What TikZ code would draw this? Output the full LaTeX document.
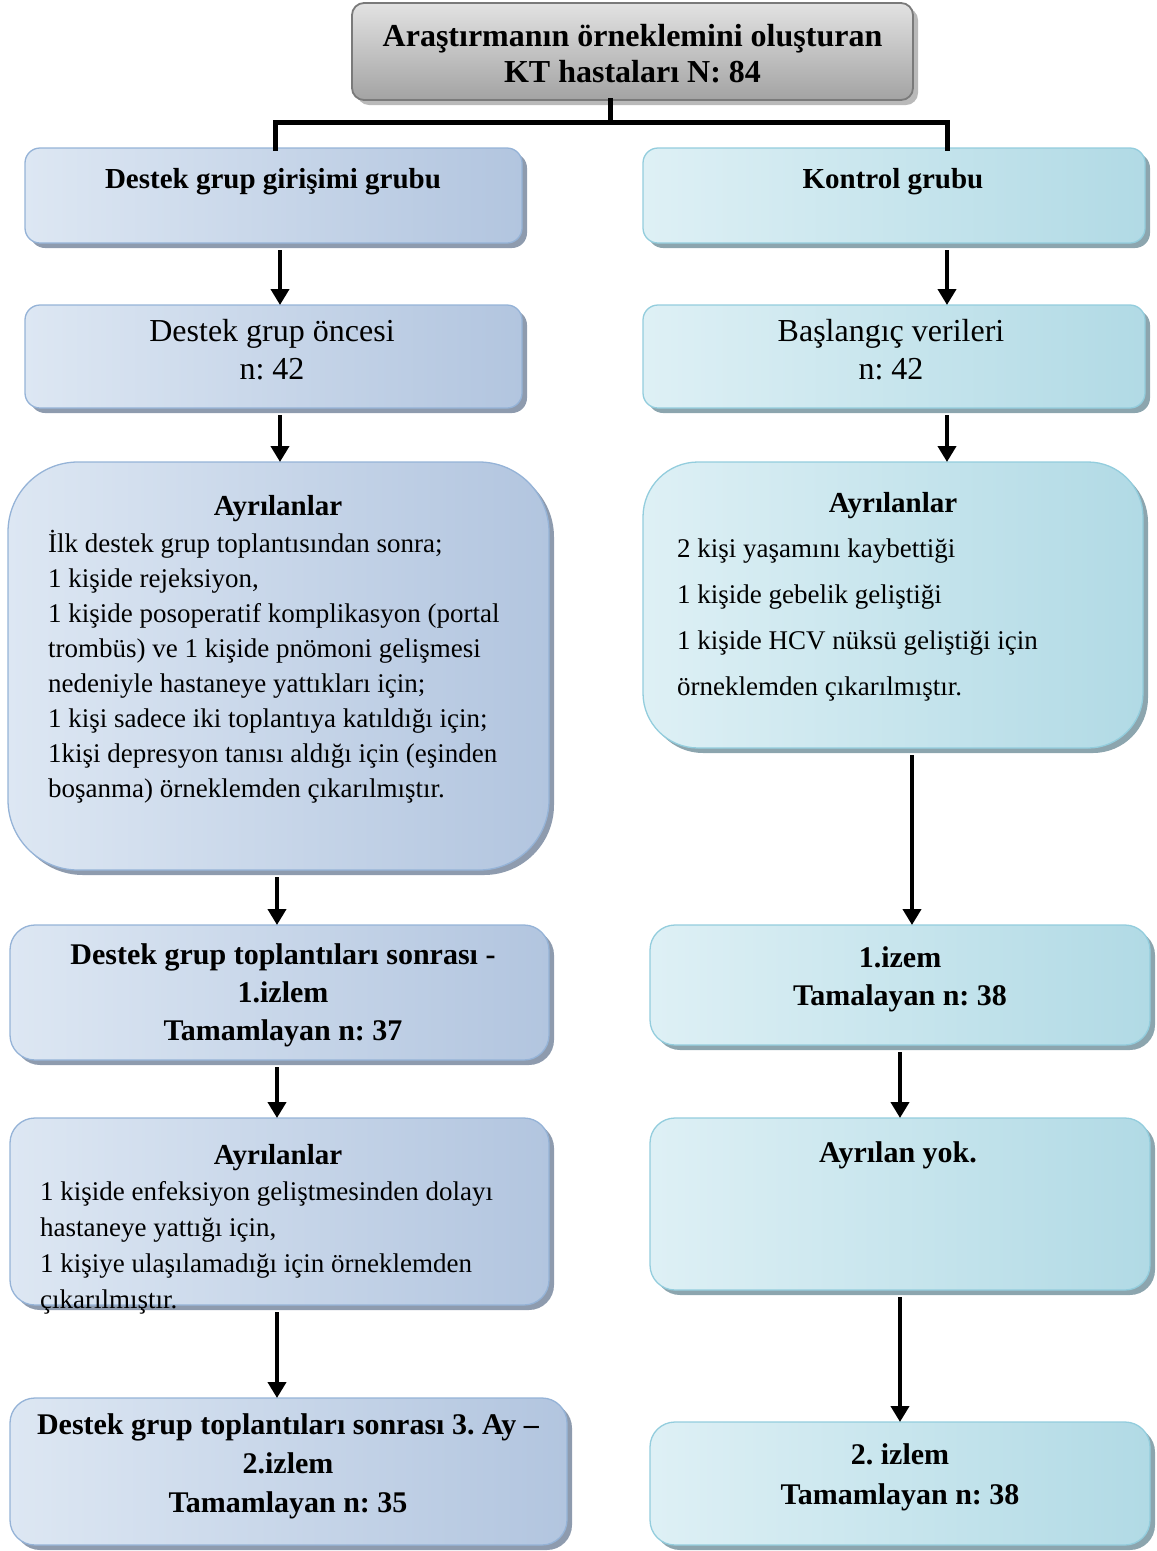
\documentclass[tikz,border=0pt]{standalone}
\usepackage{fontspec}
\setmainfont{Liberation Serif}
\usetikzlibrary{arrows.meta,shadows}
\frenchspacing

% palette
\definecolor{blueLight}{HTML}{DDE7F3}
\definecolor{blueDark}{HTML}{B2C5DF}
\definecolor{blueEdge}{HTML}{95B3D7}
\definecolor{blueShadow}{HTML}{8E9BAE}
\definecolor{cyanLight}{HTML}{DEF0F5}
\definecolor{cyanDark}{HTML}{B1DAE5}
\definecolor{cyanEdge}{HTML}{93CDDD}
\definecolor{cyanShadow}{HTML}{8CA5AE}
\definecolor{greyLight}{HTML}{E2E2E2}
\definecolor{greyDark}{HTML}{A3A3A3}
\definecolor{greyEdge}{HTML}{7A7A7A}

\tikzset{
  panel/.style={rectangle, inner sep=0pt, outer sep=0pt, line width=1.3pt},
  bluebox/.style={panel, draw=blueEdge, left color=blueLight, right color=blueDark,
    drop shadow={shadow xshift=5pt, shadow yshift=-5pt, fill=blueShadow, opacity=1}},
  cyanbox/.style={panel, draw=cyanEdge, left color=cyanLight, right color=cyanDark,
    drop shadow={shadow xshift=5pt, shadow yshift=-5pt, fill=cyanShadow, opacity=1}},
  greybox/.style={panel, draw=greyEdge, line width=1.8pt, top color=greyLight, bottom color=greyDark,
    drop shadow={shadow xshift=5pt, shadow yshift=-5pt, fill=gray!55, opacity=1}},
  % multi-line nodes: the base anchor is the baseline of the last line
  txt/.style={inner sep=0pt, anchor=base, align=center},
  bodytxt/.style={inner sep=0pt, anchor=base west, align=left},
  headfont/.style={font=\fontsize{30}{38}\selectfont\bfseries},
  bigfont/.style={font=\fontsize{32}{38}\selectfont},
  link/.style={line width=5pt, line join=miter, line cap=rect},
  arrow/.style={line width=4.5pt, -{Triangle[length=16pt,width=18pt]}, shorten <=7pt},
}

\begin{document}
\begin{tikzpicture}[x=1pt, y=-1pt]
\useasboundingbox (0,0) rectangle (1157,1551);

% ---------- boxes ----------
\node[greybox, rounded corners=12pt, minimum width=561pt, minimum height=97pt] (T) at (632.5,51.5) {};

\node[bluebox, rounded corners=15pt, minimum width=497pt, minimum height=95pt]  (L1) at (273.5,195.5) {};
\node[bluebox, rounded corners=15pt, minimum width=497pt, minimum height=103pt] (L2) at (273.5,356.5) {};
\node[bluebox, rounded corners=70pt, minimum width=541pt, minimum height=408pt] (L3) at (278.5,666) {};
\node[bluebox, rounded corners=25pt, minimum width=539pt, minimum height=135pt] (L4) at (279.5,992.5) {};
\node[bluebox, rounded corners=25pt, minimum width=539pt, minimum height=187pt] (L5) at (279.5,1211.5) {};
\node[bluebox, rounded corners=25pt, minimum width=557pt, minimum height=147pt] (L6) at (288.5,1471.5) {};

\node[cyanbox, rounded corners=15pt, minimum width=502pt, minimum height=95pt]  (R1) at (894,195.5) {};
\node[cyanbox, rounded corners=15pt, minimum width=502pt, minimum height=103pt] (R2) at (894,356.5) {};
\node[cyanbox, rounded corners=55pt, minimum width=500pt, minimum height=286pt] (R3) at (893,605) {};
\node[cyanbox, rounded corners=25pt, minimum width=500pt, minimum height=120pt] (R4) at (900,985) {};
\node[cyanbox, rounded corners=25pt, minimum width=500pt, minimum height=172pt] (R5) at (900,1204) {};
\node[cyanbox, rounded corners=25pt, minimum width=500pt, minimum height=123pt] (R6) at (900,1483.5) {};

% ---------- texts ----------
\node[txt, font=\fontsize{32}{36}\selectfont\bfseries] (Tt) at (632.5,82)
  {Araştırmanın örneklemini oluşturan\\KT hastaları N: 84};

\node[txt, font=\fontsize{29}{35}\selectfont\bfseries] (L1t) at (273,188) {Destek grup girişimi grubu};
\node[txt, bigfont] (L2t) at (272,379) {Destek grup öncesi\\n: 42};
\node[txt, font=\fontsize{29}{35}\selectfont\bfseries] (L3h) at (278,515) {Ayrılanlar};
\node[bodytxt, font=\fontsize{27}{35}\selectfont] (L3b) at (48,797)
  {İlk destek grup toplantısından sonra;\\
   1 kişide rejeksiyon,\\
   1 kişide posoperatif komplikasyon (portal\\
   trombüs) ve 1 kişide pnömoni gelişmesi\\
   nedeniyle hastaneye yattıkları için;\\
   1 kişi sadece iki toplantıya katıldığı için;\\
   1kişi depresyon tanısı aldığı için (eşinden\\
   boşanma) örneklemden çıkarılmıştır.};
\node[txt, headfont] (L4t) at (283,1040)
  {Destek grup toplantıları sonrası -\\1.izlem\\Tamamlayan n: 37};
\node[txt, font=\fontsize{29}{35}\selectfont\bfseries] (L5h) at (278,1164) {Ayrılanlar};
\node[bodytxt, font=\fontsize{27}{36}\selectfont] (L5b) at (40,1308)
  {1 kişide enfeksiyon geliştmesinden dolayı\\
   hastaneye yattığı için,\\
   1 kişiye ulaşılamadığı için örneklemden\\
   çıkarılmıştır.};
\node[txt, font=\fontsize{30}{39}\selectfont\bfseries] (L6t) at (288,1512)
  {Destek grup toplantıları sonrası 3. Ay –\\2.izlem\\Tamamlayan n: 35};

\node[txt, font=\fontsize{29}{35}\selectfont\bfseries] (R1t) at (893,188) {Kontrol grubu};
\node[txt, bigfont] (R2t) at (891,379) {Başlangıç verileri\\n: 42};
\node[txt, font=\fontsize{29}{35}\selectfont\bfseries] (R3h) at (893,512) {Ayrılanlar};
\node[bodytxt, font=\fontsize{27}{46}\selectfont] (R3b) at (677,695)
  {2 kişi yaşamını kaybettiği\\
   1 kişide gebelik geliştiği\\
   1 kişide HCV nüksü geliştiği için\\
   örneklemden çıkarılmıştır.};
\node[txt, headfont] (R4t) at (900,1005) {1.izem\\Tamalayan n: 38};
\node[txt, headfont] (R5t) at (898,1162) {Ayrılan yok.};
\node[txt, font=\fontsize{30}{40}\selectfont\bfseries] (R6t) at (900,1504) {2. izlem\\Tamamlayan n: 38};

% ---------- connectors ----------
\coordinate (jm) at (610,122);
\coordinate (jl) at (275,122);
\coordinate (jr) at (947,122);
\draw[link] (T.south -| jm) -- (jm);
\draw[link] (L1.north -| jl) |- (jr) -- (R1.north -| jr);

\coordinate (cL1) at (280,0);
\coordinate (cL2) at (277,0);
\coordinate (cR1) at (947,0);
\coordinate (cR2) at (912,0);
\coordinate (cR3) at (900,0);

\draw[arrow] (L1.south -| cL1) -- (L2.north -| cL1);
\draw[arrow] (L2.south -| cL1) -- (L3.north -| cL1);
\draw[arrow] (L3.south -| cL2) -- (L4.north -| cL2);
\draw[arrow] (L4.south -| cL2) -- (L5.north -| cL2);
\draw[arrow] (L5.south -| cL2) -- (L6.north -| cL2);

\draw[arrow] (R1.south -| cR1) -- (R2.north -| cR1);
\draw[arrow] (R2.south -| cR1) -- (R3.north -| cR1);
\draw[arrow] (R3.south -| cR2) -- (R4.north -| cR2);
\draw[arrow] (R4.south -| cR3) -- (R5.north -| cR3);
\draw[arrow] (R5.south -| cR3) -- (R6.north -| cR3);
\end{tikzpicture}
\end{document}
